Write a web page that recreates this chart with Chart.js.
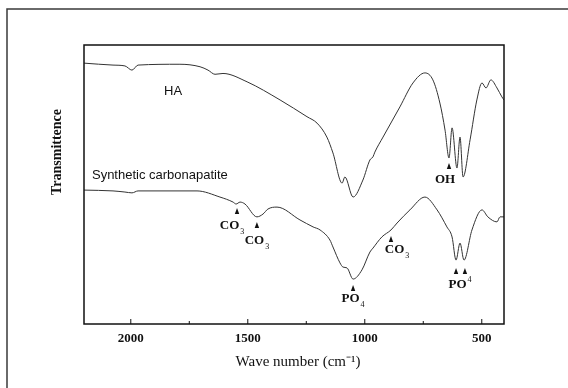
<!DOCTYPE html>
<html>
<head>
<meta charset="utf-8">
<script src="https://cdn.jsdelivr.net/npm/chart.js@4/dist/chart.umd.min.js"></script>
<style>
  html, body { margin: 0; padding: 0; background: #fff; }
  #wrap { width: 568px; height: 388px; }
</style>
</head>
<body>
<div id="wrap"><canvas id="irChart" width="568" height="388"></canvas></div>
<script>
// IR spectra (wave number cm-1, transmittance arb. units 0-100)
const haWave = [2200, 2076, 2025, 1995, 1969, 1790, 1704, 1670, 1640, 1606, 1503, 1362, 1247, 1204, 1162, 1136, 1097, 1085, 1050, 1008, 978, 965, 957, 922, 850, 794, 743, 709, 679, 657, 640, 627, 606, 593, 580, 550, 521, 499, 482, 461, 435, 414, 405];
const haT    = [93.5, 92.8, 92.5, 91.0, 92.8, 93.1, 92.2, 91.0, 89.5, 89.8, 86.8, 80.3, 74.3, 72.0, 67.0, 61.3, 50.5, 52.7, 45.5, 51.6, 58.8, 59.9, 61.6, 67.0, 77.8, 86.4, 90.0, 87.5, 79.2, 69.5, 59.5, 70.3, 55.9, 67.0, 52.7, 66.0, 80.3, 86.4, 84.6, 87.5, 84.6, 81.4, 80.3];

const caWave = [2200, 2076, 2025, 1995, 1969, 1717, 1619, 1563, 1550, 1533, 1512, 1461, 1435, 1414, 1375, 1277, 1221, 1191, 1149, 1136, 1106, 1093, 1076, 1050, 1012, 978, 965, 927, 888, 862, 807, 743, 691, 649, 627, 610, 593, 576, 542, 499, 474, 435, 422, 405];
const caT    = [48.0, 47.7, 47.3, 47.0, 47.7, 47.7, 45.5, 43.7, 43.0, 43.7, 43.0, 38.4, 39.4, 41.2, 41.9, 37.3, 34.8, 33.7, 30.1, 27.6, 21.9, 20.4, 20.1, 16.1, 19.4, 25.8, 27.2, 31.2, 33.7, 36.2, 40.9, 45.5, 40.9, 34.8, 31.2, 22.9, 29.0, 22.9, 33.7, 40.9, 38.4, 36.6, 38.4, 38.4];

const majorTicks = [2000, 1500, 1000, 500];
const minorTicks = [1750, 1250, 750];

// peak markers: arrow tip [wave, T]
const arrowWave = [640, 1546, 1461, 1050, 888, 610, 572];
const arrowT    = [57.7, 41.6, 36.6, 14.0, 31.5, 20.1, 20.1];
// labels: text, subscript/superscript, wave, T
const labelText = ['OH', 'CO', 'CO', 'PO', 'CO', 'PO'];
const labelSub  = ['', '3', '3', '4', '3', ''];
const labelSup  = ['', '', '', '', '', '4'];
const labelWave = [657, 1567, 1461, 1050, 862, 593];
const labelT    = [51.6, 35.1, 29.7, 9.0, 26.5, 14.0];

const serif = '"Liberation Serif", "Times New Roman", serif';
const sans = '"Liberation Sans", Arial, sans-serif';

const decor = {
  id: 'decor',
  afterDraw(chart) {
    const c = chart.ctx, a = chart.chartArea;
    const xs = chart.scales.x, ys = chart.scales.y;
    c.save();
    // outer frame
    c.strokeStyle = '#3a3a3a';
    c.lineWidth = 1.5;
    c.beginPath();
    c.moveTo(7, 388); c.lineTo(7, 9); c.lineTo(568, 9);
    c.stroke();
    // plot box
    c.strokeStyle = '#111';
    c.lineWidth = 1.5;
    c.strokeRect(a.left, a.top, a.right - a.left, a.bottom - a.top);
    // inward ticks
    c.lineWidth = 1;
    c.beginPath();
    majorTicks.forEach(v => { const x = xs.getPixelForValue(v); c.moveTo(x, a.bottom); c.lineTo(x, a.bottom - 5); });
    minorTicks.forEach(v => { const x = xs.getPixelForValue(v); c.moveTo(x, a.bottom); c.lineTo(x, a.bottom - 3); });
    c.stroke();
    // axis titles
    c.fillStyle = '#111';
    c.font = '15px ' + serif;
    c.textAlign = 'center';
    c.textBaseline = 'middle';
    c.fillText('Wave number (cm\u207B\u00B9)', 298, 362);
    c.save();
    c.translate(57, 152);
    c.rotate(-Math.PI / 2);
    c.font = 'bold 14px ' + serif;
    c.fillText('Transmittence', 0, 0);
    c.restore();
    // curve names
    c.font = '13px ' + sans;
    c.textAlign = 'left';
    c.fillText('HA', xs.getPixelForValue(1858), ys.getPixelForValue(83.2));
    c.fillText('Synthetic carbonapatite', xs.getPixelForValue(2166), ys.getPixelForValue(53.4));
    // arrows
    arrowWave.forEach((w, i) => {
      const x = xs.getPixelForValue(w), y = ys.getPixelForValue(arrowT[i]);
      c.beginPath();
      c.moveTo(x, y); c.lineTo(x - 2.2, y + 6); c.lineTo(x + 2.2, y + 6); c.closePath();
      c.fill();
    });
    // peak labels
    labelText.forEach((t, i) => {
      const x = xs.getPixelForValue(labelWave[i]), y = ys.getPixelForValue(labelT[i]);
      c.font = 'bold 13px ' + serif;
      const w = c.measureText(t).width;
      c.font = '8px ' + serif;
      const s = labelSub[i] || labelSup[i];
      const sw = s ? c.measureText(s).width + 1 : 0;
      const x0 = x - (w + sw) / 2;
      c.textAlign = 'left';
      c.font = 'bold 13px ' + serif;
      c.fillText(t, x0, y);
      c.font = '8px ' + serif;
      if (labelSub[i]) c.fillText(labelSub[i], x0 + w + 1, y + 6);
      if (labelSup[i]) c.fillText(labelSup[i], x0 + w + 1, y - 5);
    });
    c.restore();
  }
};

new Chart(document.getElementById('irChart'), {
  type: 'line',
  data: {
    datasets: [{
      label: 'HA',
      data: haWave.map((w, i) => ({ x: w, y: haT[i] })),
      borderColor: '#333',
      borderWidth: 1,
      pointRadius: 0,
      cubicInterpolationMode: 'monotone'
    }, {
      label: 'Synthetic carbonapatite',
      data: caWave.map((w, i) => ({ x: w, y: caT[i] })),
      borderColor: '#333',
      borderWidth: 1,
      pointRadius: 0,
      cubicInterpolationMode: 'monotone'
    }]
  },
  options: {
    responsive: false,
    animation: false,
    layout: { padding: { left: 0, top: 45, right: 64, bottom: 0 } },
    plugins: { legend: { display: false }, tooltip: { enabled: false } },
    scales: {
      x: {
        type: 'linear',
        reverse: true,
        min: 405,
        max: 2200,
        afterBuildTicks: s => { s.ticks = majorTicks.map(v => ({ value: v })); },
        afterFit: s => { s.height = 64; },
        grid: { display: false, drawTicks: false },
        border: { display: false },
        ticks: {
          padding: 7, color: '#111',
          font: { family: serif, size: 13, weight: 'bold' },
          callback: v => String(v)
        }
      },
      y: {
        min: 0,
        max: 100,
        afterFit: s => { s.width = 84; },
        grid: { display: false, drawTicks: false },
        border: { display: false },
        ticks: { display: false }
      }
    }
  },
  plugins: [decor]
});
</script>
</body>
</html>
